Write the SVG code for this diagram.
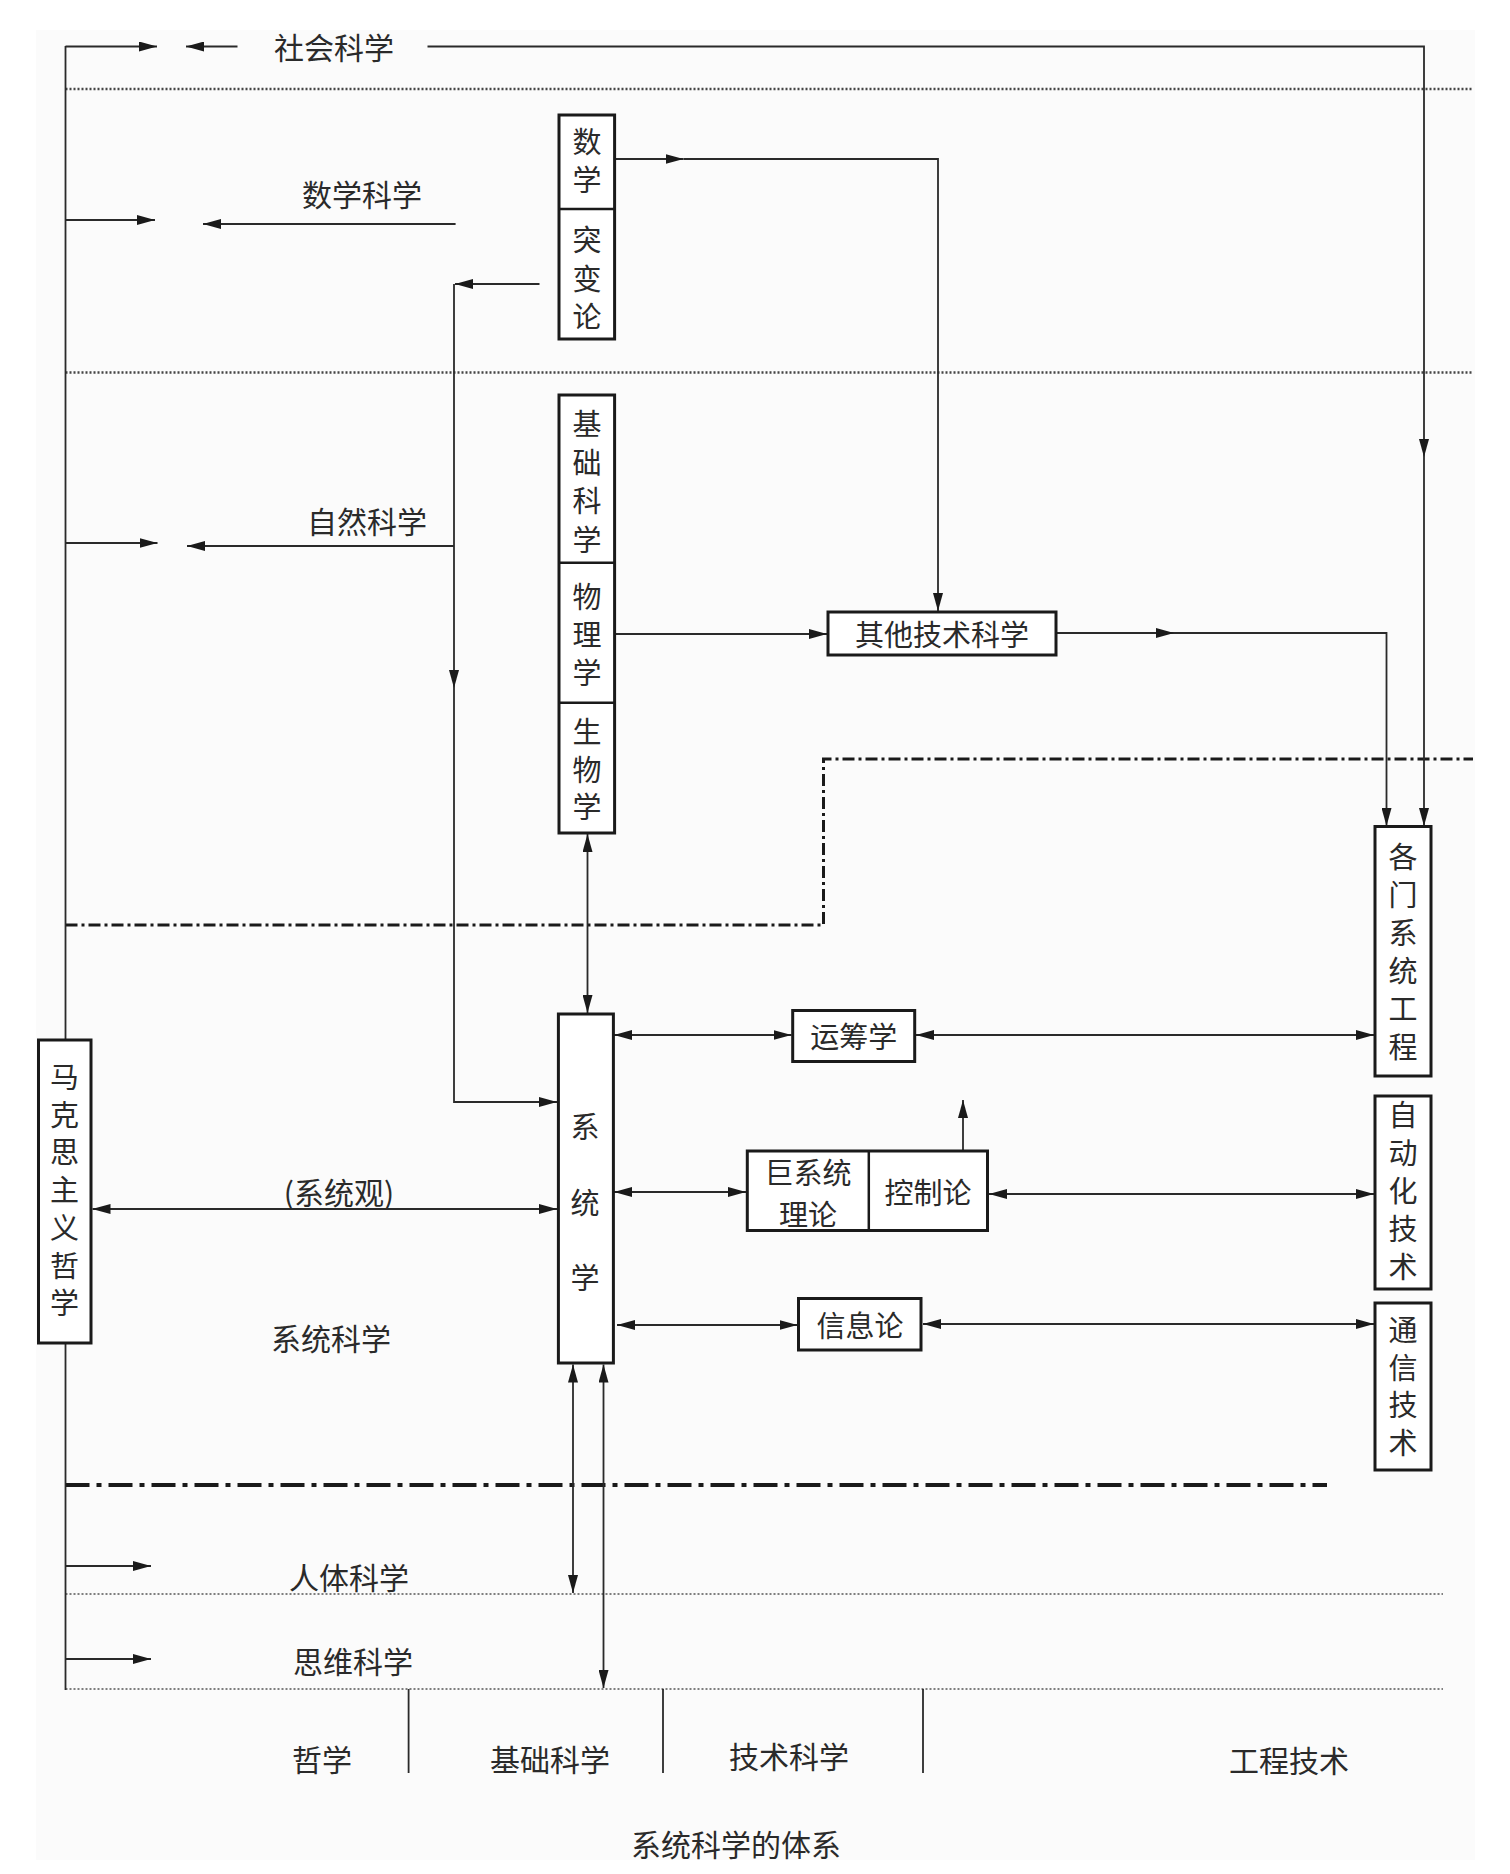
<svg xmlns="http://www.w3.org/2000/svg" width="1510" height="1874" viewBox="0 0 1510 1874">
<style>
.t{font-family:"Noto Sans CJK SC","Noto Sans",sans-serif;fill:#2a2a2a;text-anchor:middle;dominant-baseline:central}
.v{font-family:"Noto Sans CJK SC","Noto Sans",sans-serif;fill:#2a2a2a;font-size:29px;writing-mode:vertical-rl;text-anchor:start;dominant-baseline:central}
.lb{font-size:30px}
.bt{font-size:29px}
.box{fill:#fff;stroke:#1a1a1a;stroke-width:3}
.div{stroke:#1a1a1a;stroke-width:2.5;fill:none}
.c{fill:none;stroke:#2a2a2a;stroke-width:1.8}
.ae{marker-end:url(#ah)}
.ab{marker-start:url(#ah);marker-end:url(#ah)}
.dot1{stroke:#444;stroke-width:2.5;stroke-dasharray:2 2;fill:none}
.dot2{stroke:#555;stroke-width:1.4;stroke-dasharray:2 2;fill:none}
.dd1{stroke:#1a1a1a;stroke-width:3;stroke-dasharray:12 4 3 4;fill:none}
.dd2{stroke:#1a1a1a;stroke-width:4;stroke-dasharray:24 7 5 7;fill:none}
</style>
<defs>
<marker id="ah" markerWidth="18" markerHeight="10" refX="18" refY="5" orient="auto-start-reverse" markerUnits="userSpaceOnUse">
<path d="M0,0 L18,5 L0,10 z" fill="#1a1a1a"/>
</marker>
</defs>
<rect x="0" y="0" width="1510" height="1874" fill="#fff"/>
<rect x="36" y="30" width="1439" height="1830" fill="#fbfbfb"/>

<g id="bands">
<line class="dot1" x1="65.5" y1="89" x2="1473" y2="89"/>
<line class="dot1" x1="65.5" y1="372.5" x2="1473" y2="372.5"/>
<line class="dot2" x1="65.5" y1="1594" x2="1443" y2="1594"/>
<line class="dot2" x1="65.5" y1="1689" x2="1443" y2="1689"/>
<polyline class="dd1" points="65.5,925 823.5,925 823.5,759 1473,759"/>
<line class="dd2" x1="65.5" y1="1485" x2="1327" y2="1485"/>
<line class="c" x1="408.6" y1="1689" x2="408.6" y2="1773"/>
<line class="c" x1="663" y1="1689" x2="663" y2="1773"/>
<line class="c" x1="923" y1="1689" x2="923" y2="1773"/>
</g>

<g id="connectors">
<path class="c" d="M65.5,46 L65.5,1690"/>
<path class="c ae" d="M65.5,46.5 L157,46.5"/>
<path class="c ae" d="M237.5,46.5 L186,46.5"/>
<path class="c ae" d="M427.5,46.5 L1424,46.5 L1424,457"/>
<path class="c ae" d="M1424,457 L1424,826"/>
<path class="c ae" d="M65.5,220 L155,220"/>
<path class="c ae" d="M455.6,224 L203,224"/>
<path class="c ae" d="M614.6,159 L683.5,159"/>
<path class="c ae" d="M683.5,159 L938,159 L938,611"/>
<path class="c ae" d="M539.5,284 L455,284"/>
<path class="c ae" d="M454,284 L454,688"/>
<path class="c ae" d="M454,688 L454,1102 L557,1102"/>
<path class="c ae" d="M65.5,543 L157.5,543"/>
<path class="c ae" d="M454,546 L187,546"/>
<path class="c ae" d="M614.6,634 L827,634"/>
<path class="c ae" d="M1056,633 L1174,633"/>
<path class="c ae" d="M1174,633 L1386.5,633 L1386.5,826"/>
<path class="c ab" d="M587.5,834 L587.5,1013"/>
<path class="c ab" d="M614,1035 L791.5,1035"/>
<path class="c ab" d="M916,1035 L1374,1035"/>
<path class="c ab" d="M614,1192 L746,1192"/>
<path class="c ab" d="M989,1194 L1374,1194"/>
<path class="c ae" d="M963,1151 L963,1100"/>
<path class="c ab" d="M617,1325 L797.5,1325"/>
<path class="c ab" d="M923,1324 L1374,1324"/>
<path class="c ab" d="M92.5,1209 L557,1209"/>
<path class="c ab" d="M573,1364.5 L573,1593"/>
<path class="c ab" d="M603.5,1364.5 L603.5,1688"/>
<path class="c ae" d="M65.5,1566 L151,1566"/>
<path class="c ae" d="M65.5,1659 L151,1659"/>
</g>

<g id="labels">
<text class="t lb" x="334" y="46">社会科学</text>
<text class="t lb" x="362" y="193">数学科学</text>
<text class="t lb" x="367" y="520">自然科学</text>
<text class="t lb" x="339" y="1191">(系统观)</text>
<text class="t lb" x="331" y="1337">系统科学</text>
<text class="t lb" x="349" y="1576">人体科学</text>
<text class="t lb" x="353" y="1660">思维科学</text>
<text class="t lb" x="322" y="1758">哲学</text>
<text class="t lb" x="550" y="1758">基础科学</text>
<text class="t lb" x="789" y="1755">技术科学</text>
<text class="t lb" x="1289" y="1759">工程技术</text>
<text class="t lb" x="736" y="1843">系统科学的体系</text>
</g>

<g id="node-math">
<rect class="box" x="559" y="115" width="55.6" height="224"/>
<line class="div" x1="559" y1="209" x2="614.6" y2="209"/>
<text class="v" x="587" y="127.5" style="letter-spacing:9px">数学</text>
<text class="v" x="587" y="225.5" style="letter-spacing:9.5px">突变论</text>
</g>

<g id="node-basic">
<rect class="box" x="559" y="395" width="55.6" height="438"/>
<line class="div" x1="559" y1="562.7" x2="614.6" y2="562.7"/>
<line class="div" x1="559" y1="702.7" x2="614.6" y2="702.7"/>
<text class="v" x="587" y="409.5" style="letter-spacing:9.7px">基础科学</text>
<text class="v" x="587" y="582.5" style="letter-spacing:9px">物理学</text>
<text class="v" x="587" y="717.5" style="letter-spacing:8.5px">生物学</text>
</g>

<g id="node-othertech">
<rect class="box" x="828" y="612" width="228" height="43"/>
<text class="t bt" x="942" y="633">其他技术科学</text>
</g>

<g id="node-systems">
<rect class="box" x="558.4" y="1014" width="55" height="349"/>
<text class="v" x="585" y="1112.5" style="letter-spacing:46.5px">系统学</text>
</g>

<g id="node-marx">
<rect class="box" x="38.5" y="1040" width="52.5" height="303"/>
<text class="v" x="64.5" y="1062.5" style="letter-spacing:8.7px">马克思主义哲学</text>
</g>

<g id="node-or">
<rect class="box" x="792.7" y="1010.5" width="122" height="51"/>
<text class="t bt" x="853.7" y="1035">运筹学</text>
</g>

<g id="node-giant-control">
<rect class="box" x="747.3" y="1151" width="240.2" height="79.5"/>
<line class="div" x1="868.8" y1="1151" x2="868.8" y2="1230.5"/>
<text class="t bt" x="808" y="1171">巨系统</text>
<text class="t bt" x="808" y="1213">理论</text>
<text class="t bt" x="928" y="1191">控制论</text>
</g>

<g id="node-info">
<rect class="box" x="798.5" y="1298.5" width="122.5" height="51.5"/>
<text class="t bt" x="860" y="1324">信息论</text>
</g>

<g id="node-syseng">
<rect class="box" x="1375" y="826.5" width="56" height="249.5"/>
<text class="v" x="1403" y="842.5" style="letter-spacing:9px">各门系统工程</text>
</g>

<g id="node-auto">
<rect class="box" x="1375" y="1096" width="56" height="193"/>
<text class="v" x="1403" y="1100.5" style="letter-spacing:9px">自动化技术</text>
</g>

<g id="node-comm">
<rect class="box" x="1375" y="1303" width="56" height="167"/>
<text class="v" x="1403" y="1315.5" style="letter-spacing:8.7px">通信技术</text>
</g>
</svg>
